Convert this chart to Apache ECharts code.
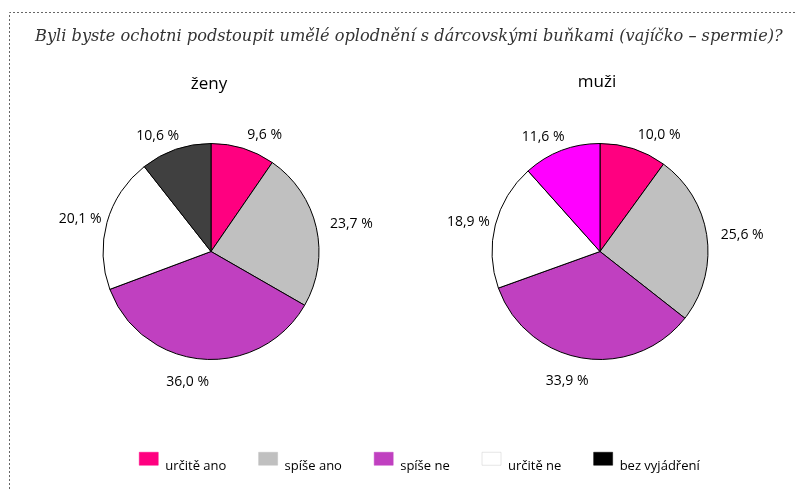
<!DOCTYPE html>
<html>
<head>
<meta charset="utf-8">
<script src="https://cdn.jsdelivr.net/npm/echarts@6/dist/echarts.min.js"></script>
<style>
  html, body { margin: 0; padding: 0; background: #fff; }
  #chart { width: 797px; height: 489px; }
</style>
</head>
<body>
<div id="chart"></div>
<script>
// kategorie odpovědí
var categories = ['určitě ano', 'spíše ano', 'spíše ne', 'určitě ne', 'bez vyjádření'];
var zenyValues = [9.6, 23.7, 36.0, 20.1, 10.6];
var muziValues = [10.0, 25.6, 33.9, 18.9, 11.6];
var zenyColors = ['#ff0080', '#c0c0c0', '#c040c0', '#ffffff', '#404040'];
var muziColors = ['#ff0080', '#c0c0c0', '#c040c0', '#ffffff', '#ff00ff'];
var legendColors = ['#ff0080', '#c0c0c0', '#c040c0', '#ffffff', '#000000'];

var pieRadius = 108;
var pieCenters = [[211, 251.5], [600, 251.5]];
var seriesValues = [zenyValues, muziValues];

function pieData(values, colors) {
    return categories.map(function (name, i) {
        return {
            name: name,
            value: values[i],
            itemStyle: { color: colors[i] }
        };
    });
}

// popisky vně koláče, podobně jako v Excelu
function placeLabel(params) {
    var values = seriesValues[params.seriesIndex];
    var c = pieCenters[params.seriesIndex];
    var total = 0, before = 0;
    values.forEach(function (v, i) {
        total += v;
        if (i < params.dataIndex) before += v;
    });
    var mid = (before + values[params.dataIndex] / 2) / total * Math.PI * 2;
    var ux = Math.sin(mid);
    var uy = -Math.cos(mid);
    var d = pieRadius + 14;
    return {
        x: c[0] + d * ux + (ux < 0 ? 8 : 0),
        y: c[1] + d * uy + 9 * Math.max(uy, 0),
        align: ux >= 0 ? 'left' : 'right',
        verticalAlign: 'middle'
    };
}

function pieSeries(name, values, colors, center) {
    return {
        name: name,
        type: 'pie',
        center: center,
        radius: pieRadius,
        startAngle: 90,
        clockwise: true,
        avoidLabelOverlap: false,
        silent: true,
        itemStyle: {
            borderColor: '#000',
            borderWidth: 1
        },
        label: {
            show: true,
            position: 'outside',
            fontFamily: 'Open Sans',
            fontSize: 14,
            color: '#000',
            formatter: function (p) {
                return p.value.toFixed(1).replace('.', ',') + ' %';
            }
        },
        labelLine: { show: false },
        labelLayout: placeLabel,
        data: pieData(values, colors)
    };
}

var chart = echarts.init(document.getElementById('chart'));
chart.setOption({
    animation: false,
    title: {
        text: 'Byli byste ochotni podstoupit umělé oplodnění s dárcovskými buňkami (vajíčko – spermie)?',
        left: 30,
        top: 24,
        textStyle: {
            fontFamily: 'DejaVu Serif',
            fontStyle: 'italic',
            fontWeight: 'normal',
            fontSize: 16.2,
            color: '#333'
        }
    },
    legend: {
        top: 447,
        left: 134,
        itemWidth: 19,
        itemHeight: 13,
        itemGap: 32,
        icon: 'rect',
        selectedMode: false,
        formatter: function (name) {
            return '{t|' + name + '}';
        },
        textStyle: {
            fontFamily: 'Open Sans',
            fontSize: 13,
            color: '#000',
            rich: {
                t: { fontFamily: 'Open Sans', fontSize: 13, color: '#000', padding: [16, 0, 0, 2] }
            }
        },
        data: categories.map(function (name, i) {
            return {
                name: name,
                itemStyle: { color: legendColors[i], borderColor: i === 3 ? '#ccc' : legendColors[i], borderWidth: 0.5 }
            };
        })
    },
    graphic: [
        {
            type: 'polyline',
            shape: { points: [[9.5, 489], [9.5, 12.5], [797, 12.5]] },
            style: { stroke: '#666', lineWidth: 1, lineDash: [2, 2], fill: null },
            silent: true
        },
        {
            type: 'text',
            x: 209,
            y: 84,
            style: { text: 'ženy', font: '17px "Open Sans"', fill: '#000', align: 'center', verticalAlign: 'middle' },
            silent: true
        },
        {
            type: 'text',
            x: 597,
            y: 82,
            style: { text: 'muži', font: '17px "Open Sans"', fill: '#000', align: 'center', verticalAlign: 'middle' },
            silent: true
        }
    ],
    series: [
        pieSeries('ženy', zenyValues, zenyColors, pieCenters[0]),
        pieSeries('muži', muziValues, muziColors, pieCenters[1])
    ]
});
</script>
</body>
</html>
